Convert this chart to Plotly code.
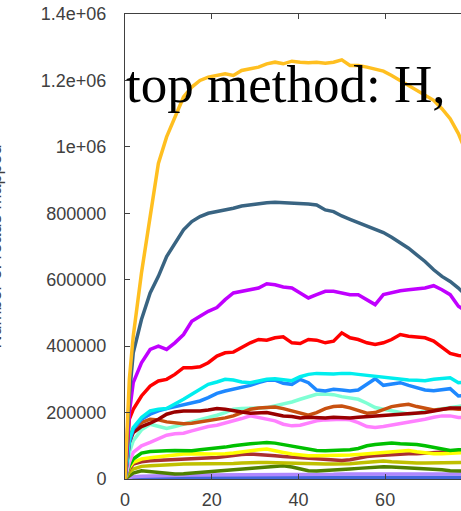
import plotly.graph_objects as go

# x positions (iterations) at which values were read
steps = [0, 1, 1.9, 3.8, 5.8, 7.7, 9.6, 11.5, 13.5, 15.4, 17.3, 19.2, 21.2, 23.1, 25, 26.9,
         28.9, 30.8, 32.7, 34.6, 36.5, 38.5, 40.4, 42.3, 44.2, 46.2, 48.1, 50, 51.9, 53.8,
         55.8, 57.7, 59.6, 61.5, 63.5, 65.4, 67.3, 69.2, 71.2, 73.1, 75, 76.9, 78.8]

gold = [0, 300e3, 430e3, 620e3, 790e3, 950e3, 1030e3, 1090e3, 1150e3, 1180e3, 1200e3, 1210e3,
        1215e3, 1220e3, 1215e3, 1230e3, 1235e3, 1240e3, 1250e3, 1255e3, 1250e3, 1258e3, 1255e3,
        1253e3, 1255e3, 1252e3, 1255e3, 1262e3, 1245e3, 1245e3, 1240e3, 1235e3, 1228e3, 1215e3,
        1200e3, 1185e3, 1170e3, 1155e3, 1140e3, 1115e3, 1085e3, 1040e3, 980e3]
slate = [0, 250e3, 380e3, 480e3, 560e3, 610e3, 670e3, 710e3, 750e3, 775e3, 790e3, 800e3,
         805e3, 810e3, 815e3, 822e3, 826e3, 830e3, 832e3, 833e3, 832e3, 832e3, 830e3, 828e3,
         825e3, 810e3, 805e3, 792e3, 782e3, 772e3, 762e3, 752e3, 742e3, 728e3, 712e3, 695e3,
         675e3, 655e3, 630e3, 610e3, 595e3, 575e3, 550e3]
purple = [0, 200e3, 290e3, 350e3, 390e3, 400e3, 390e3, 410e3, 435e3, 475e3, 490e3, 505e3,
          516e3, 540e3, 560e3, 565e3, 570e3, 575e3, 588e3, 585e3, 578e3, 575e3, 560e3, 545e3,
          555e3, 565e3, 565e3, 560e3, 555e3, 555e3, 540e3, 525e3, 555e3, 562e3, 567e3, 570e3,
          572e3, 575e3, 582e3, 570e3, 555e3, 520e3, 505e3]
red = [0, 180e3, 210e3, 250e3, 280e3, 295e3, 300e3, 315e3, 335e3, 335e3, 338e3, 350e3,
       370e3, 380e3, 382e3, 395e3, 410e3, 420e3, 418e3, 425e3, 428e3, 410e3, 408e3, 420e3,
       418e3, 410e3, 415e3, 440e3, 425e3, 420e3, 410e3, 405e3, 410e3, 420e3, 435e3, 430e3,
       428e3, 425e3, 415e3, 395e3, 378e3, 372e3, 370e3]
cyan = [0, 120e3, 155e3, 185e3, 205e3, 210e3, 212e3, 225e3, 240e3, 255e3, 270e3, 285e3,
        292e3, 300e3, 298e3, 292e3, 290e3, 295e3, 300e3, 302e3, 298e3, 296e3, 308e3, 315e3,
        318e3, 317e3, 316e3, 318e3, 318e3, 315e3, 312e3, 310e3, 308e3, 305e3, 300e3, 298e3,
        297e3, 296e3, 300e3, 302e3, 305e3, 290e3, 292e3]
blue = [0, 110e3, 150e3, 180e3, 195e3, 205e3, 212e3, 218e3, 222e3, 228e3, 235e3, 245e3,
        258e3, 265e3, 270e3, 275e3, 282e3, 290e3, 297e3, 298e3, 288e3, 285e3, 300e3, 290e3,
        268e3, 265e3, 270e3, 268e3, 265e3, 268e3, 285e3, 302e3, 282e3, 285e3, 290e3, 282e3,
        275e3, 268e3, 266e3, 268e3, 272e3, 250e3, 252e3]
maroon = [0, 110e3, 140e3, 158e3, 168e3, 180e3, 195e3, 202e3, 205e3, 205e3, 205e3, 208e3,
          212e3, 210e3, 205e3, 202e3, 198e3, 198e3, 200e3, 195e3, 190e3, 188e3, 184e3, 186e3,
          185e3, 184e3, 186e3, 185e3, 184e3, 186e3, 188e3, 190e3, 192e3, 194e3, 196e3, 196e3,
          198e3, 200e3, 205e3, 210e3, 214e3, 214e3, 214e3]
sienna = [0, 120e3, 150e3, 170e3, 180e3, 178e3, 172e3, 168e3, 166e3, 168e3, 172e3, 175e3,
          178e3, 184e3, 190e3, 200e3, 210e3, 214e3, 216e3, 217e3, 212e3, 206e3, 198e3, 192e3,
          200e3, 212e3, 218e3, 220e3, 214e3, 205e3, 198e3, 200e3, 210e3, 218e3, 222e3, 225e3,
          218e3, 212e3, 208e3, 210e3, 212e3, 210e3, 210e3]
aqua = [0, 80e3, 115e3, 148e3, 165e3, 158e3, 152e3, 158e3, 165e3, 170e3, 178e3, 185e3,
        192e3, 200e3, 210e3, 212e3, 214e3, 214e3, 215e3, 220e3, 226e3, 232e3, 240e3, 248e3,
        255e3, 256e3, 254e3, 248e3, 244e3, 240e3, 228e3, 215e3, 210e3, 205e3, 200e3, 196e3,
        198e3, 205e3, 208e3, 212e3, 215e3, 220e3, 222e3]
pink = [0, 50e3, 80e3, 100e3, 110e3, 122e3, 132e3, 136e3, 138e3, 145e3, 152e3, 158e3,
        162e3, 168e3, 175e3, 182e3, 190e3, 185e3, 180e3, 175e3, 165e3, 160e3, 162e3, 168e3,
        175e3, 178e3, 180e3, 180e3, 178e3, 170e3, 158e3, 155e3, 158e3, 162e3, 166e3, 170e3,
        175e3, 180e3, 186e3, 190e3, 190e3, 185e3, 185e3]
green = [0, 40e3, 60e3, 78e3, 83e3, 85e3, 85e3, 86e3, 86e3, 85e3, 88e3, 90e3, 94e3, 96e3,
         100e3, 104e3, 106e3, 108e3, 110e3, 108e3, 104e3, 100e3, 96e3, 90e3, 86e3, 85e3, 86e3,
         86e3, 88e3, 92e3, 100e3, 104e3, 106e3, 108e3, 106e3, 105e3, 104e3, 100e3, 96e3, 90e3,
         86e3, 88e3, 88e3]
brown = [0, 30e3, 45e3, 52e3, 55e3, 56e3, 58e3, 58e3, 60e3, 62e3, 63e3, 64e3, 65e3, 68e3,
         72e3, 74e3, 75e3, 74e3, 72e3, 70e3, 68e3, 66e3, 64e3, 62e3, 60e3, 58e3, 56e3, 56e3,
         58e3, 64e3, 68e3, 70e3, 72e3, 74e3, 75e3, 76e3, 76e3, 78e3, 80e3, 82e3, 84e3, 84e3, 84e3]
yellow = [0, 35e3, 50e3, 60e3, 64e3, 66e3, 68e3, 72e3, 75e3, 76e3, 76e3, 75e3, 75e3, 76e3,
          78e3, 82e3, 86e3, 88e3, 90e3, 86e3, 80e3, 75e3, 72e3, 70e3, 70e3, 70e3, 72e3, 72e3,
          72e3, 74e3, 76e3, 78e3, 80e3, 84e3, 86e3, 86e3, 82e3, 78e3, 76e3, 76e3, 78e3, 80e3, 80e3]
olive = [0, 20e3, 30e3, 38e3, 40e3, 42e3, 44e3, 44e3, 45e3, 45e3, 45e3, 45e3, 45e3, 46e3,
         47e3, 48e3, 50e3, 50e3, 50e3, 49e3, 48e3, 48e3, 48e3, 47e3, 46e3, 45e3, 45e3, 45e3,
         46e3, 48e3, 50e3, 52e3, 54e3, 52e3, 50e3, 50e3, 48e3, 48e3, 48e3, 48e3, 50e3, 50e3, 50e3]
darkolive = [0, 10e3, 18e3, 25e3, 22e3, 18e3, 16e3, 15e3, 16e3, 18e3, 20e3, 22e3, 24e3, 27e3,
             30e3, 32e3, 34e3, 36e3, 38e3, 40e3, 40e3, 36e3, 30e3, 25e3, 24e3, 25e3, 27e3,
             29e3, 30e3, 32e3, 34e3, 36e3, 37e3, 36e3, 35e3, 34e3, 33e3, 32e3, 30e3, 28e3,
             25e3, 24e3, 24e3]
lilac = [0, 5e3, 7e3, 8e3, 9e3, 10e3, 10e3, 11e3, 12e3, 12e3, 12e3, 12e3, 12e3, 13e3, 13e3,
         13e3, 13e3, 13e3, 13e3, 14e3, 14e3, 14e3, 14e3, 14e3, 14e3, 14e3, 14e3, 15e3, 15e3,
         15e3, 15e3, 15e3, 15e3, 15e3, 15e3, 15e3, 15e3, 15e3, 15e3, 15e3, 15e3, 15e3, 15e3]
royal = [0, 3e3, 4e3, 5e3, 5e3, 5e3, 5e3, 5e3, 5e3, 5e3, 5e3, 5e3, 5e3, 5e3, 5e3, 5e3, 5e3,
         5e3, 5e3, 5e3, 5e3, 5e3, 5e3, 5e3, 5e3, 5e3, 5e3, 5e3, 5e3, 5e3, 5e3, 5e3, 5e3, 5e3,
         5e3, 5e3, 5e3, 5e3, 5e3, 5e3, 5e3, 5e3, 5e3]

series = [
    ("royal", royal, "#4466dd"),
    ("lilac", lilac, "#b088ff"),
    ("darkolive", darkolive, "#4f8000"),
    ("olive", olive, "#c0c000"),
    ("brown", brown, "#aa3030"),
    ("yellow", yellow, "#ffff00"),
    ("green", green, "#00c000"),
    ("pink", pink, "#ff80ff"),
    ("aqua", aqua, "#7fffd4"),
    ("sienna", sienna, "#c85010"),
    ("maroon", maroon, "#990000"),
    ("blue", blue, "#1e88ff"),
    ("cyan", cyan, "#00eeee"),
    ("red", red, "#ff0000"),
    ("purple", purple, "#c000ff"),
    ("slate", slate, "#396482"),
    ("gold", gold, "#ffbf20"),
]

y_ticks = [0, 200000, 400000, 600000, 800000, 1000000, 1200000, 1400000]
y_labels = ["0", "200000", "400000", "600000", "800000", "1e+06", "1.2e+06", "1.4e+06"]
x_ticks = [0, 20, 40, 60, 80]

fig = go.Figure()
for name, vals, col in series:
    fig.add_trace(go.Scatter(x=steps, y=vals, mode="lines", name=name,
                             line=dict(color=col, width=3.5), showlegend=False))

axis_font = dict(family="Liberation Sans, Arial, sans-serif", size=18, color="#404040")
fig.update_layout(
    width=461, height=511,
    margin=dict(l=125, r=0, t=14, b=32, autoexpand=False),
    paper_bgcolor="white", plot_bgcolor="white",
    xaxis=dict(range=[0, 77.5], tickvals=x_ticks, ticks="inside", ticklen=5,
               tickcolor="#404040", showline=True, linecolor="#404040", linewidth=1,
               mirror="allticks", showgrid=False, zeroline=False, tickfont=axis_font,
               ticklabelstandoff=4, automargin=False, ticklabeloverflow="allow"),
    yaxis=dict(range=[0, 1400000], tickvals=y_ticks, ticktext=y_labels, ticks="inside",
               ticklen=5, tickcolor="#404040", showline=True, linecolor="#404040",
               linewidth=1, mirror=True, showgrid=False, zeroline=False, tickfont=axis_font,
               ticklabelstandoff=14, automargin=False, ticklabeloverflow="allow"),
    annotations=[
        dict(text="top method: H,", xref="paper", yref="y", x=0, y=1.19e6,
             xanchor="left", yanchor="middle", xshift=-1, showarrow=False,
             font=dict(family="Liberation Serif, Times New Roman, serif", size=53,
                       color="black")),
        dict(text="Number of reads mapped", xref="paper", yref="paper", x=0, y=0.5,
             xshift=-131, xanchor="center", yanchor="middle", textangle=-90,
             showarrow=False,
             font=dict(family="Liberation Sans, Arial, sans-serif", size=18,
                       color="#404040")),
    ],
)
fig.write_html("out.html", config={"displayModeBar": False},
               post_script="document.body.style.margin='0';document.body.style.overflow='hidden';")
